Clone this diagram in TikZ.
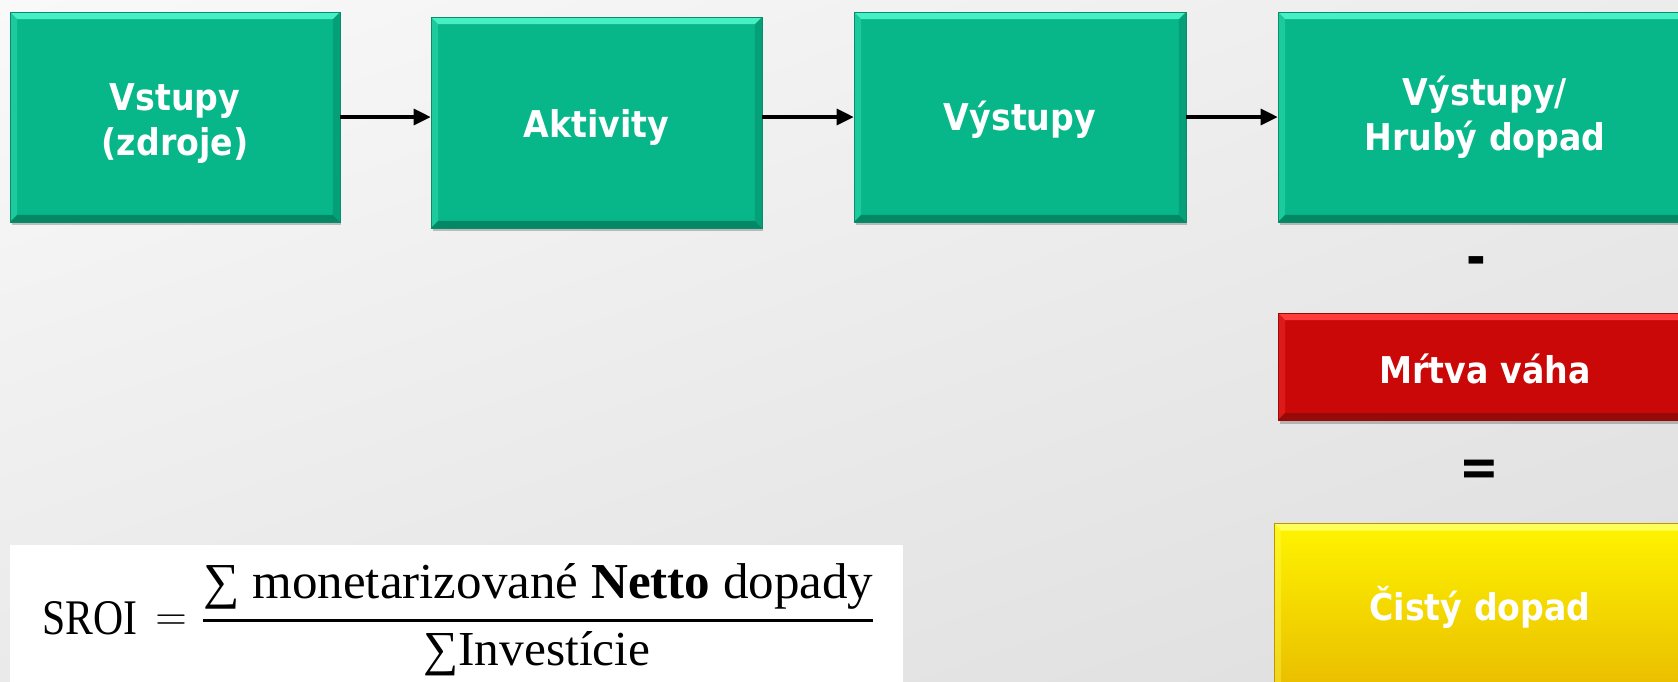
\documentclass[tikz,border=0pt]{standalone}
\usepackage{fontspec}
\setmainfont{Liberation Serif}
\newfontfamily\boxfont[FakeStretch=0.9]{DejaVu Sans}
\usetikzlibrary{arrows.meta,shadows,shadings}
\definecolor{bgTL}{RGB}{249,249,249}
\definecolor{bgTR}{RGB}{236,236,236}
\definecolor{bgBL}{RGB}{234,234,234}
\definecolor{bgBR}{RGB}{222,222,222}
\definecolor{boxgreen}{RGB}{7,182,137}
\definecolor{greenlight}{RGB}{70,240,196}
\definecolor{greendark}{RGB}{4,135,100}
\definecolor{greenedge}{RGB}{10,140,105}
\definecolor{boxred}{RGB}{203,8,8}
\definecolor{redlight}{RGB}{255,60,60}
\definecolor{reddark}{RGB}{150,10,10}
\definecolor{yeltop}{RGB}{255,244,0}
\definecolor{yelbot}{RGB}{232,186,0}
\definecolor{yellight}{RGB}{255,255,90}
\definecolor{yeldark}{RGB}{190,150,0}
\tikzset{
  bevel/.style 2 args={path picture={
    \fill[#1] (path picture bounding box.north west) -- (path picture bounding box.north east)
      -- ([shift={(-0.14cm,-0.14cm)}]path picture bounding box.north east)
      -- ([shift={(0.14cm,-0.14cm)}]path picture bounding box.north west) -- cycle;
    \fill[#1,opacity=0.35] (path picture bounding box.north west) -- ([shift={(0.14cm,-0.14cm)}]path picture bounding box.north west)
      -- ([shift={(0.14cm,0.14cm)}]path picture bounding box.south west) -- (path picture bounding box.south west) -- cycle;
    \fill[#2] (path picture bounding box.south west) -- (path picture bounding box.south east)
      -- ([shift={(-0.14cm,0.14cm)}]path picture bounding box.south east)
      -- ([shift={(0.14cm,0.14cm)}]path picture bounding box.south west) -- cycle;
    \fill[#2,opacity=0.45] (path picture bounding box.north east) -- ([shift={(-0.14cm,-0.14cm)}]path picture bounding box.north east)
      -- ([shift={(-0.14cm,0.14cm)}]path picture bounding box.south east) -- (path picture bounding box.south east) -- cycle;
  }},
  boxbase/.style={inner sep=0pt, align=center, text=white, line width=0.4pt,
    font=\boxfont\bfseries\fontsize{21}{25.6}\selectfont,
    drop shadow={shadow xshift=0.03cm, shadow yshift=-0.07cm, opacity=0.22, fill=black}},
  greenbox/.style={boxbase, fill=boxgreen, draw=greenedge, bevel={greenlight}{greendark}},
  redbox/.style={boxbase, fill=boxred, draw=reddark, bevel={redlight}{reddark}},
  yellowbox/.style={boxbase, top color=yeltop, bottom color=yelbot, draw=yeldark, bevel={yellight}{yeldark}},
  boxtext/.style={inner sep=0pt, align=center, text=white, font=\boxfont\bfseries\fontsize{21}{25.6}\selectfont},
  signtext/.style={inner sep=0pt, font=\boxfont\bfseries\fontsize{30}{30}\selectfont},
  arr/.style={line width=0.065cm, -{Triangle[length=0.34cm,width=0.32cm]}},
}
\begin{document}
\begin{tikzpicture}[x=0.02cm,y=-0.02cm]
\useasboundingbox (0,0) rectangle (1678,681);
\clip (0,0) rectangle (1678,681);
\shade[upper left=bgTL, upper right=bgTR, lower left=bgBL, lower right=bgBR] (0,0) rectangle (1678,681);

% top row
\node[greenbox, minimum width=6.6cm, minimum height=4.2cm] (b1) at (175,117) {\rule{0pt}{0.8cm}Vstupy\\(zdroje)};
\node[greenbox, minimum width=6.62cm, minimum height=4.22cm, text height=0.58cm, text depth=0pt] (b2) at (596.5,122.5) {Aktivity};
\node[greenbox, minimum width=6.64cm, minimum height=4.2cm, text height=0.52cm, text depth=0pt] (b3) at (1020,117) {Výstupy};
\node[greenbox, minimum width=8.28cm, minimum height=4.2cm] (b4) at (1485,117) {Výstupy/\\Hrubý dopad};

\draw[arr] (b1.east) -- (b2.west |- b1.east);
\draw[arr] (b2.east |- b3.west) -- (b3.west);
\draw[arr] (b3.east) -- (b4.west);

% right column
\node[signtext] (minus) at (1476,266) {-};
\node[redbox, minimum width=8.28cm, minimum height=2.14cm, text height=0.66cm, text depth=0pt] (red) at (1485,366.5) {Mŕtva váha};
\node[signtext] (equals) at (1479,473) {=};
\node[yellowbox, minimum width=8.24cm, minimum height=3.5cm] (yel) at (1480,611) {};
\node[boxtext, anchor=base] (cisty) at (1480,620) {Čistý dopad};

% formula
\fill[white] (10,545) rectangle (903,700);
\node[anchor=base west, inner sep=0pt] (sroi) at (42,634) {\resizebox{1.9cm}{0.66cm}{SROI}};
\node[inner sep=0pt] (eq) at (171,622.5) {\fontsize{24}{24}\selectfont$=$};
\node[anchor=base west, inner sep=0pt] (num) at (203,598) {\resizebox{13.4cm}{0.7cm}{∑ monetarizované \textbf{Netto} dopady}};
\coordinate (fracL) at (203,620);
\coordinate (fracR) at (873,620);
\draw[line width=0.06cm] (fracL) -- (fracR);
\node[anchor=base west, inner sep=0pt] (den) at (423,665) {\resizebox{4.54cm}{0.68cm}{∑Investície}};
\end{tikzpicture}
\end{document}
